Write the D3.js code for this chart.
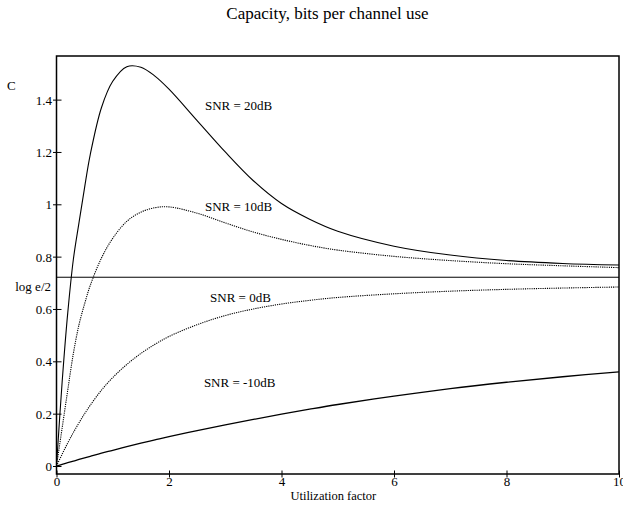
<!DOCTYPE html>
<html>
<head>
<meta charset="utf-8">
<script src="https://cdn.jsdelivr.net/npm/d3@7"></script>
<style>
  html, body { margin: 0; padding: 0; background: #fff; }
  svg text { font-family: "Liberation Serif", "Times New Roman", serif; fill: #000; }
</style>
</head>
<body>
<svg id="chart" width="623" height="507"></svg>
<script>
// ---- data ----
const utilization = [0, 0.1, 0.2, 0.3, 0.4, 0.5, 0.6, 0.8, 1, 1.25, 1.5, 1.75, 2, 2.5, 3, 3.5, 4, 4.5, 5, 6, 7, 8, 9, 10];
const snr20 = [0, 0.32, 0.585, 0.79, 0.93, 1.065, 1.19, 1.37, 1.47, 1.526, 1.524, 1.49, 1.44, 1.32, 1.20, 1.09, 1.003, 0.943, 0.897, 0.84, 0.806, 0.785, 0.774, 0.768];
const snr10 = [0, 0.145, 0.29, 0.43, 0.54, 0.62, 0.69, 0.795, 0.87, 0.935, 0.97, 0.987, 0.99, 0.966, 0.929, 0.894, 0.866, 0.843, 0.825, 0.801, 0.785, 0.773, 0.765, 0.758];
const snr0 = [0, 0.045, 0.088, 0.128, 0.165, 0.20, 0.232, 0.29, 0.338, 0.388, 0.43, 0.465, 0.495, 0.54, 0.575, 0.60, 0.619, 0.633, 0.644, 0.658, 0.668, 0.675, 0.68, 0.684];
const snrm10 = [0, 0.0063, 0.0125, 0.0187, 0.0249, 0.031, 0.037, 0.049, 0.06, 0.074, 0.087, 0.0995, 0.112, 0.135, 0.157, 0.178, 0.198, 0.217, 0.235, 0.267, 0.296, 0.32, 0.341, 0.36];
const seriesNames = ["SNR = 20dB", "SNR = 10dB", "SNR = 0dB", "SNR = -10dB"];
const labelX = [2.64, 2.64, 2.73, 2.62];
const labelY = [1.36, 0.975, 0.625, 0.30];
const xTicks = [0, 2, 4, 6, 8, 10];
const yTicks = [0, 0.2, 0.4, 0.6, 0.8, 1, 1.2, 1.4];
const yTickLabels = ["0", "0.2", "0.4", "0.6", "0.8", "1", "1.2", "1.4"];
const logE2 = 0.7213;   // log2(e)/2

// ---- layout ----
const svg = d3.select("#chart");
const pLeft = 56.5, pRight = 619, pTop = 56, pBottom = 474;
const x = d3.scaleLinear().domain([0, 10]).range([pLeft, pRight]);
const y = d3.scaleLinear().domain([0, 1]).range([466, 466 - 261.7]);

// frame
svg.append("rect")
  .attr("x", pLeft).attr("y", pTop)
  .attr("width", pRight - pLeft).attr("height", pBottom - pTop)
  .attr("fill", "none").attr("stroke", "#000").attr("stroke-width", 1.5);

// x axis ticks + labels
const xAxis = d3.axisBottom(x).tickValues(xTicks).tickSize(0).tickPadding(0)
  .tickFormat(d3.format("d"));
const gx = svg.append("g").attr("transform", `translate(0,${pBottom})`).call(xAxis);
gx.select(".domain").remove();
gx.selectAll(".tick").append("line")
  .attr("y1", -3.5).attr("y2", 3.5).attr("stroke", "#000").attr("stroke-width", 1);
gx.selectAll(".tick text")
  .attr("y", 12).attr("dy", 0)
  .style("font-size", "13px").style("font-family", "Liberation Serif");

// y axis ticks + labels
const yAxis = d3.axisLeft(y).tickValues(yTicks).tickSize(0).tickPadding(0)
  .tickFormat((d, i) => yTickLabels[i]);
const gy = svg.append("g").attr("transform", `translate(${pLeft},0)`).call(yAxis);
gy.select(".domain").remove();
gy.selectAll(".tick").append("line")
  .attr("x1", -3.5).attr("x2", 5).attr("stroke", "#000").attr("stroke-width", 1);
gy.selectAll(".tick text")
  .attr("x", -4.5).attr("dy", "0.35em")
  .style("font-size", "13px").style("font-family", "Liberation Serif");

// log e/2 reference line
svg.append("line")
  .attr("x1", pLeft).attr("x2", pRight)
  .attr("y1", y(logE2)).attr("y2", y(logE2))
  .attr("stroke", "#000").attr("stroke-width", 1);
svg.append("text")
  .attr("x", pLeft - 5.5).attr("y", y(logE2) + 14)
  .attr("text-anchor", "end")
  .style("font-size", "13px")
  .text("log e/2");

// curves
const allSeries = [snr20, snr10, snr0, snrm10];
const dashes = [null, "1.2,1", "1.2,1", null];
const widths = [1.1, 1.1, 1.1, 1.3];
const line = d3.line()
  .x((d, i) => x(utilization[i]))
  .y(d => y(d))
  .curve(d3.curveCatmullRom.alpha(0.5));
allSeries.forEach((s, k) => {
  svg.append("path")
    .datum(s)
    .attr("d", line)
    .attr("fill", "none")
    .attr("stroke", "#000")
    .attr("stroke-width", widths[k])
    .attr("stroke-dasharray", dashes[k]);
  svg.append("text")
    .attr("x", x(labelX[k])).attr("y", y(labelY[k]))
    .style("font-size", "13px")
    .text(seriesNames[k]);
});

// axis / chart titles
svg.append("text")
  .attr("x", 327.5).attr("y", 19)
  .attr("text-anchor", "middle")
  .style("font-size", "17px")
  .text("Capacity, bits per channel use");
svg.append("text")
  .attr("x", 333.3).attr("y", 500)
  .attr("text-anchor", "middle")
  .style("font-size", "12.5px")
  .text("Utilization factor");
svg.append("text")
  .attr("x", 7).attr("y", 90)
  .style("font-size", "13px")
  .text("C");
</script>
</body>
</html>
